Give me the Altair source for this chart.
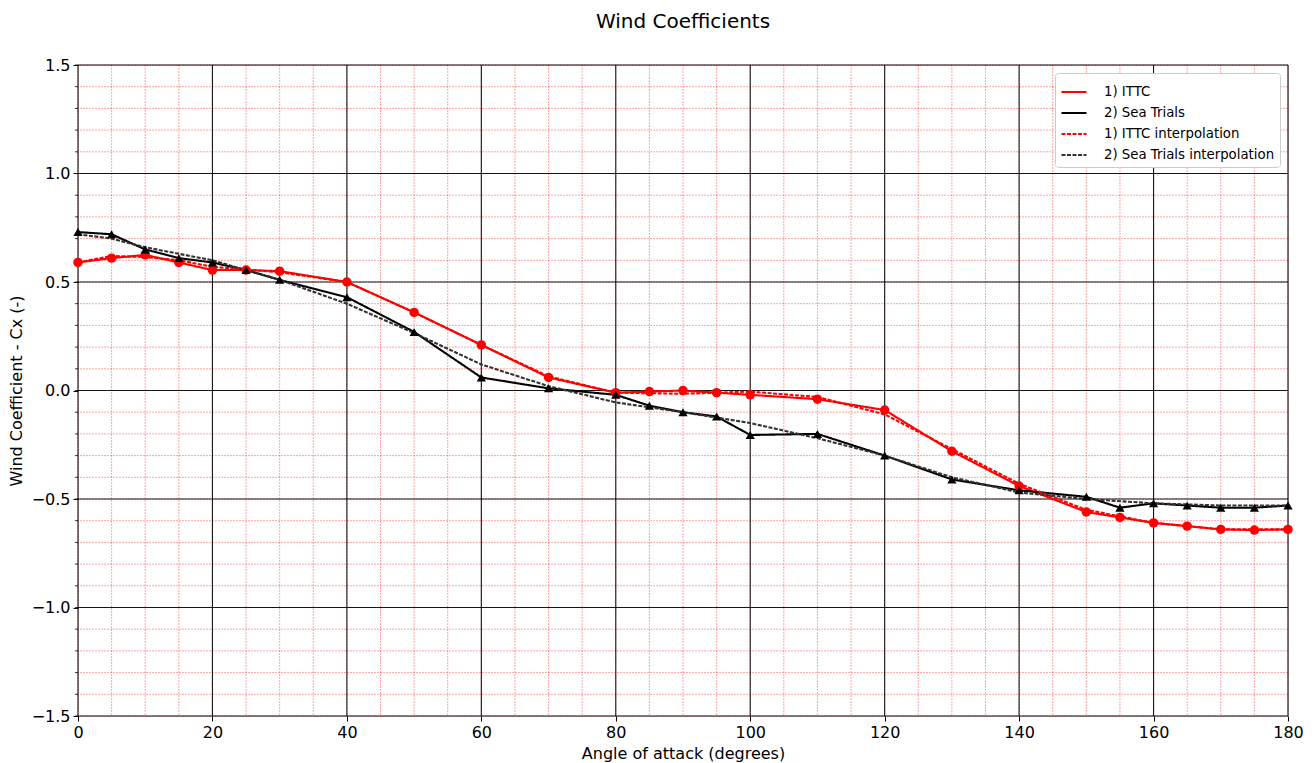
import altair as alt
import pandas as pd

# Measured series
angles = [0, 5, 10, 15, 20, 25, 30, 40, 50, 60, 70, 80, 85, 90, 95, 100, 110, 120, 130, 140, 150, 155, 160, 165, 170, 175, 180]
ittc = [0.59, 0.61, 0.625, 0.59, 0.555, 0.555, 0.55, 0.50, 0.36, 0.21, 0.06, -0.01, -0.005, 0.0, -0.01, -0.02, -0.04, -0.09,
        -0.28, -0.44, -0.56, -0.585, -0.61, -0.625, -0.64, -0.643, -0.64]
sea = [0.73, 0.72, 0.65, 0.61, 0.59, 0.555, 0.51, 0.43, 0.27, 0.06, 0.01, -0.02, -0.07, -0.10, -0.12, -0.205, -0.20, -0.30,
       -0.41, -0.46, -0.49, -0.54, -0.52, -0.53, -0.54, -0.54, -0.53]

# Interpolation curves
interp_angles = [0, 5, 10, 15, 20, 30, 40, 50, 60, 70, 80, 90, 100, 110, 120, 130, 140, 150, 160, 170, 180]
ittc_interp = [0.59, 0.62, 0.615, 0.60, 0.57, 0.545, 0.50, 0.36, 0.21, 0.065, -0.01, -0.015, -0.005, -0.03, -0.11,
               -0.27, -0.43, -0.55, -0.61, -0.64, -0.64]
sea_interp = [0.72, 0.70, 0.66, 0.63, 0.60, 0.51, 0.40, 0.265, 0.12, 0.02, -0.055, -0.10, -0.15, -0.22, -0.30,
              -0.40, -0.47, -0.50, -0.52, -0.53, -0.53]

series_names = ["1) ITTC", "2) Sea Trials", "1) ITTC interpolation", "2) Sea Trials interpolation"]

x_major = [0, 20, 40, 60, 80, 100, 120, 140, 160, 180]
y_major = [-1.5, -1.0, -0.5, 0.0, 0.5, 1.0, 1.5]
x_minor = list(range(0, 181, 5))
y_minor = [round(-1.5 + 0.1 * i, 1) for i in range(31)]

rows = []
for a, v in zip(angles, ittc):
    rows.append({"angle": a, "value": v, "series": series_names[0]})
for a, v in zip(angles, sea):
    rows.append({"angle": a, "value": v, "series": series_names[1]})
for a, v in zip(interp_angles, ittc_interp):
    rows.append({"angle": a, "value": v, "series": series_names[2]})
for a, v in zip(interp_angles, sea_interp):
    rows.append({"angle": a, "value": v, "series": series_names[3]})
df = pd.DataFrame(rows)

xscale = alt.Scale(domain=[0, 180], nice=False, zero=False)
yscale = alt.Scale(domain=[-1.5, 1.5], nice=False, zero=False)

FONT = "DejaVu Sans"
xaxis = alt.Axis(values=x_major, title="Angle of attack (degrees)", grid=False, tickSize=5, labelPadding=3,
                 tickColor="black", labelColor="#000", titleColor="#000", labelFontSize=16, titleFontSize=16,
                 titleFontWeight="normal", titlePadding=5, domain=False, labelFont=FONT, titleFont=FONT,
                 labelFlush=False, labelOverlap=False)
yaxis = alt.Axis(values=y_major, title="Wind Coefficient - Cx (-)", grid=False, tickSize=5, labelPadding=3,
                 tickColor="black", labelColor="#000", titleColor="#000", labelFontSize=16, titleFontSize=16,
                 titleFontWeight="normal", titlePadding=7, domain=False, labelFont=FONT, titleFont=FONT,
                 labelFlush=False, labelOverlap=False,
                 labelExpr="replace(format(datum.value, '.1f'), '-', '\u2212')")

minor_x = alt.Chart(pd.DataFrame({"angle": x_minor})).mark_rule(
    color="#ff0000", strokeWidth=0.8, strokeDash=[2, 1], opacity=0.45
).encode(x=alt.X("angle:Q", scale=xscale, axis=xaxis))
minor_y = alt.Chart(pd.DataFrame({"value": y_minor})).mark_rule(
    color="#ff0000", strokeWidth=0.8, strokeDash=[2, 1], opacity=0.45
).encode(y=alt.Y("value:Q", scale=yscale, axis=yaxis))
minor_y_ticks = alt.Chart(pd.DataFrame({"value": y_minor})).mark_rule(
    color="#000", strokeWidth=0.8
).encode(y=alt.Y("value:Q", scale=yscale), x=alt.value(-3), x2=alt.value(0))
major_x = alt.Chart(pd.DataFrame({"angle": x_major})).mark_rule(
    color="#000", strokeWidth=1.1, opacity=0.9
).encode(x=alt.X("angle:Q", scale=xscale))
major_y = alt.Chart(pd.DataFrame({"value": y_major})).mark_rule(
    color="#000", strokeWidth=1.1, opacity=0.9
).encode(y=alt.Y("value:Q", scale=yscale))

lines = alt.Chart(df).mark_line().encode(
    x=alt.X("angle:Q", scale=xscale),
    y=alt.Y("value:Q", scale=yscale),
    color=alt.Color("series:N", scale=alt.Scale(domain=series_names, range=["#ff0000", "#000000", "#ff0000", "#333333"]),
                    legend=alt.Legend(title=None, orient="top-right", offset=8, symbolType="stroke", symbolSize=625,
                                      symbolStrokeWidth=1.6, labelFontSize=13.3, labelFont=FONT, labelColor="#000",
                                      fillColor="white", strokeColor="#cccccc", padding=5, cornerRadius=3,
                                      rowPadding=-4, labelOffset=16, labelLimit=300)),
    strokeDash=alt.StrokeDash("series:N", scale=alt.Scale(domain=series_names, range=[[1, 0], [1, 0], [4, 1.5], [4, 1.5]]),
                              legend=alt.Legend(title=None, orient="top-right", offset=8)),
    strokeWidth=alt.StrokeWidth("series:N", scale=alt.Scale(domain=series_names, range=[2.1, 2.1, 1.1, 1.1]),
                                legend=alt.Legend(title=None, orient="top-right", offset=8)),
    order=alt.Order("angle:Q"),
)

pts_ittc = alt.Chart(df).transform_filter(alt.datum.series == series_names[0]).mark_point(
    shape="circle", filled=True, color="#ff0000", size=90, opacity=1
).encode(x=alt.X("angle:Q", scale=xscale), y=alt.Y("value:Q", scale=yscale))
pts_sea = alt.Chart(df).transform_filter(alt.datum.series == series_names[1]).mark_point(
    shape="triangle-up", filled=True, color="#000000", size=85, opacity=1
).encode(x=alt.X("angle:Q", scale=xscale), y=alt.Y("value:Q", scale=yscale))

chart = alt.layer(minor_x, minor_y, minor_y_ticks, major_x, major_y, lines, pts_ittc, pts_sea).properties(
    width=1210, height=651,
    title=alt.TitleParams("Wind Coefficients", fontSize=20, fontWeight="normal", font=FONT, color="#000",
                          anchor="middle", offset=25),
    autosize=alt.AutoSizeParams(type="none"),
    padding={"left": 78, "top": 65, "right": 26, "bottom": 47},
).configure_view(stroke="#000", strokeWidth=1.2).configure(background="white")

chart.save("out.html", embed_options={"renderer": "svg", "actions": False})
